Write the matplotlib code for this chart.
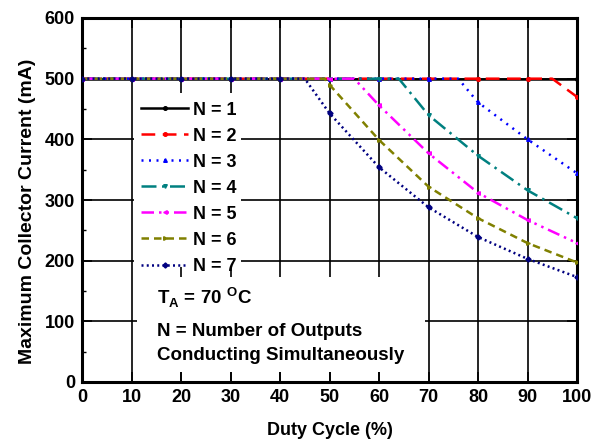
import numpy as np
import matplotlib
matplotlib.use("Agg")
from matplotlib import pyplot as plt
from matplotlib.patches import Rectangle

plt.rcParams["font.family"] = ["Liberation Sans", "DejaVu Sans"]
plt.rcParams["font.weight"] = "bold"

# duty cycle (%) / max collector current (mA)
x_n1 = [0, 10, 20, 30, 40, 50, 60, 70, 80, 90, 100]
y_n1 = [500, 500, 500, 500, 500, 500, 500, 500, 500, 500, 500]
x_n2 = [0, 10, 20, 30, 40, 50, 60, 70, 80, 90, 95, 100]
y_n2 = [500, 500, 500, 500, 500, 500, 500, 500, 500, 500, 500, 470]
x_n3 = [0, 10, 20, 30, 40, 50, 60, 70, 76, 80, 90, 100]
y_n3 = [500, 500, 500, 500, 500, 500, 500, 500, 500, 461, 400, 344]
x_n4 = [0, 10, 20, 30, 40, 50, 60, 64, 70, 80, 90, 100]
y_n4 = [500, 500, 500, 500, 500, 500, 500, 500, 440, 373, 316, 270]
x_n5 = [0, 10, 20, 30, 40, 50, 55, 60, 70, 80, 90, 100]
y_n5 = [500, 500, 500, 500, 500, 500, 500, 456, 377, 312, 267, 229]
x_n6 = [0, 10, 20, 30, 40, 49, 50, 60, 70, 80, 90, 100]
y_n6 = [500, 500, 500, 500, 500, 500, 490, 399, 322, 270, 229, 197]
x_n7 = [0, 10, 20, 30, 40, 45, 50, 60, 70, 80, 90, 100]
y_n7 = [500, 500, 500, 500, 500, 500, 443, 354, 288, 239, 203, 173]

labels = ["N = 1", "N = 2", "N = 3", "N = 4", "N = 5", "N = 6", "N = 7"]
series = [(x_n1, y_n1), (x_n2, y_n2), (x_n3, y_n3), (x_n4, y_n4),
          (x_n5, y_n5), (x_n6, y_n6), (x_n7, y_n7)]

colors = ["black", "#ff0000", "#0000ff", "#008080", "#ff00ff", "#808000", "#000080"]
dashes = [(), (5.5, 3), (0.8, 2.2), (6, 2.2, 1, 2.2), (5, 2, 1, 2, 1, 2), (3, 2), (0.8, 1.3)]
markers = ["o", "o", "^", "v", "<", ">", "D"]

fig = plt.figure(figsize=(6.05, 4.45), dpi=100)
ax = fig.add_axes([82 / 605, 1 - 382 / 445, 495 / 605, 364 / 445])

for (xs, ys), lab, c, d, m in zip(series, labels, colors, dashes, markers):
    every = [i for i, v in enumerate(xs) if v % 10 == 0]
    line, = ax.plot(xs, ys, color=c, lw=1.8, marker=m, ms=2.6,
                    markevery=every, label=lab, zorder=3)
    if d:
        line.set_dashes(d)

ax.set_xlim(0, 100)
ax.set_ylim(0, 600)
ax.set_xticks(np.arange(0, 101, 10))
ax.set_yticks(np.arange(0, 601, 100))
ax.set_yticks(np.arange(50, 600, 100), minor=True)
ax.grid(True, which="major", color="black", lw=1.2)
ax.tick_params(which="major", direction="in", length=7, width=1.2,
               labelsize=13, pad=5, top=True, right=True)
ax.tick_params(which="minor", direction="in", length=3, width=1.0, left=True)
for s in ax.spines.values():
    s.set_linewidth(2.2)

ax.set_xlabel("Duty Cycle (%)", fontsize=13, fontweight="bold")
ax.set_ylabel("Maximum Collector Current (mA)", fontsize=14, fontweight="bold")
ax.xaxis.set_label_coords(0.5, -0.111)
ax.yaxis.set_label_coords(-0.093, 0.468)

# white boxes behind legend and note (hide grid there)
ax.add_patch(Rectangle((10.5, 190), 21.6, 286, transform=ax.transData,
                       facecolor="white", edgecolor="none", zorder=2.5))
ax.add_patch(Rectangle((11.1, 16.5), 58.2, 156.5, transform=ax.transData,
                       facecolor="white", edgecolor="none", zorder=2.5))

leg = ax.legend(loc="upper left", bbox_to_anchor=(0.105, 0.79), frameon=False,
                fontsize=13, handlelength=2.6, handletextpad=0.25, numpoints=1,
                labelspacing=0.5, borderaxespad=0)
leg.set_zorder(4)

ax.text(15.2, 127, r"T$_\mathregular{A}$ = 70 $^\mathregular{O}$C", fontsize=13.5,
        fontweight="bold", va="baseline", zorder=4)
ax.text(15.2, 76, "N = Number of Outputs", fontsize=13.5, fontweight="bold",
        va="baseline", zorder=4)
ax.text(15.2, 36, "Conducting Simultaneously", fontsize=13.5, fontweight="bold",
        va="baseline", zorder=4)

fig.savefig("out.png", dpi=100, facecolor="w")
